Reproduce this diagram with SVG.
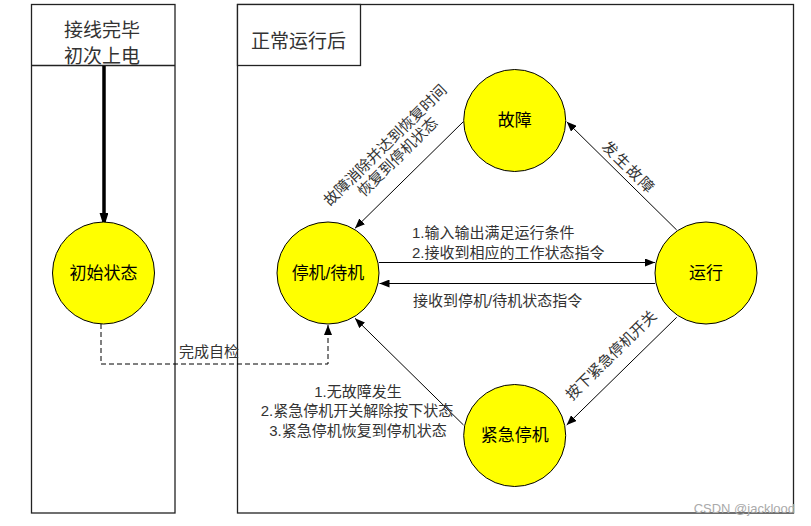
<svg xmlns="http://www.w3.org/2000/svg" width="811" height="526" viewBox="0 0 811 526">
<style>
.lane{fill:#fff;stroke:#222;stroke-width:1.3}
.hdr{font-family:"Noto Sans CJK SC","Liberation Sans",sans-serif;font-size:19px;fill:#333;text-anchor:middle;dominant-baseline:central}
.node circle{fill:#ffff00;stroke:#000;stroke-width:1}
.node text{font-family:"Liberation Sans","Noto Sans CJK SC",sans-serif;font-size:17px;fill:#000;text-anchor:middle;dominant-baseline:central}
.edge{stroke:#000;stroke-width:1;fill:none}
.lbl{font-family:"Liberation Sans","Noto Sans CJK SC",sans-serif;font-size:15px;fill:#333;dominant-baseline:central}
.c{text-anchor:middle}
</style>
<defs>
<marker id="ah" viewBox="0 0 10 8" refX="10" refY="4" markerWidth="10" markerHeight="8" markerUnits="userSpaceOnUse" orient="auto">
<path d="M0,0 L10,4 L0,8 z" fill="#000"/>
</marker>
<marker id="big" viewBox="0 0 14 22" refX="14" refY="7" markerWidth="22" markerHeight="14" markerUnits="userSpaceOnUse" orient="auto">
<path d="M0,0 L22,7 L0,14 z" fill="#000"/>
</marker>
</defs>
<rect width="811" height="526" fill="#fff"/>
<g id="lanes">
<rect class="lane" x="31.5" y="4.5" width="143.5" height="508.5"/>
<line class="lane" x1="31.5" y1="65.5" x2="175" y2="65.5"/>
<text class="hdr" x="102" y="28">接线完毕</text>
<text class="hdr" x="102" y="54">初次上电</text>
<rect class="lane" x="237.5" y="4.5" width="556" height="508.5"/>
<rect class="lane" x="237.5" y="4.5" width="123" height="61"/>
<text class="hdr" x="298.5" y="39.5">正常运行后</text>
</g>
<g id="connectors">
<line x1="104" y1="66" x2="104" y2="222" stroke="#000" stroke-width="3.5" marker-end="url(#big)"/>
<path class="edge" d="M101,324 V364 H328 V325" stroke-dasharray="5,3" marker-end="url(#ah)"/>
<line class="edge" x1="379" y1="262.5" x2="655" y2="262.5" stroke="#444" stroke-width="1.6" marker-end="url(#ah)"/>
<line class="edge" x1="655" y1="283.5" x2="379.5" y2="283.5" marker-end="url(#ah)"/>
<line class="edge" x1="676.7" y1="230" x2="566.7" y2="121.7" marker-end="url(#ah)"/>
<line class="edge" x1="463.3" y1="121.7" x2="355" y2="228.3" marker-end="url(#ah)"/>
<line class="edge" x1="676.7" y1="317.3" x2="566.7" y2="425" marker-end="url(#ah)"/>
<line class="edge" x1="463.5" y1="425" x2="355" y2="318.3" marker-end="url(#ah)"/>
<text class="lbl" x="179" y="351">完成自检</text>
<text class="lbl" x="412" y="232">1.输入输出满足运行条件</text>
<text class="lbl" x="412" y="252">2.接收到相应的工作状态指令</text>
<text class="lbl" x="413" y="300">接收到停机/待机状态指令</text>
<text class="lbl c" x="385" y="145" transform="rotate(-44.5 385 145)">故障消除并达到恢复时间</text>
<text class="lbl c" x="397.5" y="156.7" transform="rotate(-44.5 397.5 156.7)">恢复到停机状态</text>
<text class="lbl c" x="629" y="167.5" transform="rotate(44.5 629 167.5)" letter-spacing="2">发生故障</text>
<text class="lbl c" x="611" y="355" transform="rotate(-44.5 611 355)">按下紧急停机开关</text>
<text class="lbl c" x="358" y="391">1.无故障发生</text>
<text class="lbl c" x="357" y="410.5">2.紧急停机开关解除按下状态</text>
<text class="lbl c" x="358" y="430.5">3.紧急停机恢复到停机状态</text>
</g>
<g id="n_init" class="node"><circle cx="103.5" cy="273" r="51"/><text x="103.5" y="273">初始状态</text></g>
<g id="n_standby" class="node"><circle cx="328" cy="273" r="51"/><text x="328" y="273">停机/待机</text></g>
<g id="n_fault" class="node"><circle cx="514.7" cy="120.5" r="51"/><text x="514.7" y="120.5">故障</text></g>
<g id="n_run" class="node"><circle cx="706" cy="273" r="51"/><text x="706" y="273">运行</text></g>
<g id="n_estop" class="node"><circle cx="514.7" cy="435.5" r="51"/><text x="514.7" y="435.5">紧急停机</text></g>
<text x="795" y="508" font-family="Liberation Sans, sans-serif" font-size="13" fill="#aaa" text-anchor="end" dominant-baseline="central">CSDN @jacklood</text>
</svg>
